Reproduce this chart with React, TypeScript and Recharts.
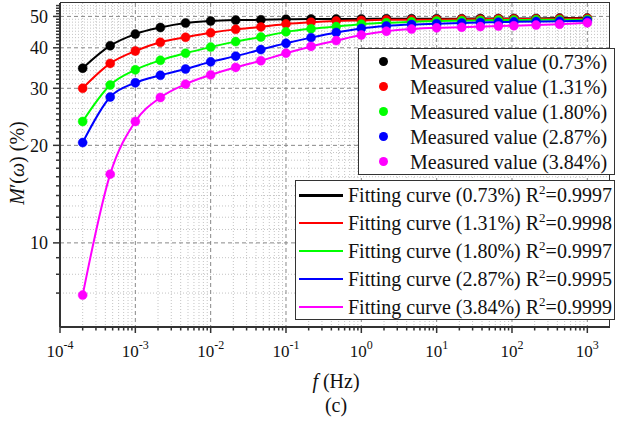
import { ComposedChart, Line, XAxis, YAxis, CartesianGrid } from "recharts";

const FONT = "'Liberation Serif', 'Times New Roman', serif";

// frequency (Hz)
const freq = [
  2e-4, 4.64e-4, 1e-3, 2.15e-3, 4.64e-3, 1e-2, 2.15e-2, 4.64e-2, 0.1, 0.215, 0.464,
  1, 2.15, 4.64, 10, 21.5, 38, 66, 106, 209, 428, 1000,
];

// M'(ω) in %
const m073 = [34.6, 40.6, 44.1, 46.2, 47.7, 48.4, 48.7, 48.8, 49.0, 49.1, 49.1, 49.1, 49.2, 49.2, 49.2, 49.2, 49.3, 49.3, 49.3, 49.3, 49.4, 49.4];
const m131 = [30.0, 35.8, 39.1, 41.6, 43.1, 44.5, 45.6, 46.4, 47.4, 48.0, 48.4, 48.6, 48.8, 48.8, 48.9, 49.0, 49.0, 49.1, 49.1, 49.1, 49.2, 49.3];
const m180 = [23.7, 30.7, 34.2, 36.6, 38.5, 40.2, 41.8, 43.2, 44.8, 45.8, 46.5, 47.3, 47.8, 48.1, 48.4, 48.5, 48.6, 48.7, 48.7, 48.8, 48.8, 48.9];
const m287 = [20.4, 28.2, 31.2, 32.9, 34.4, 36.2, 37.7, 39.5, 41.3, 43.0, 44.6, 45.9, 46.7, 47.2, 47.5, 47.7, 47.9, 48.0, 48.1, 48.2, 48.3, 48.5];
const m384 = [6.9, 16.3, 23.7, 28.1, 30.9, 33.0, 34.8, 36.5, 38.5, 40.4, 42.1, 43.8, 45.0, 45.7, 46.1, 46.3, 46.5, 46.7, 46.8, 47.0, 47.3, 47.8];

const contents = ["0.73%", "1.31%", "1.80%", "2.87%", "3.84%"];
const r2 = ["0.9997", "0.9998", "0.9997", "0.9995", "0.9999"];
const colors = ["#000000", "#ff0000", "#00ff00", "#0000ff", "#ff00ff"];
const keys = ["s073", "s131", "s180", "s287", "s384"];

const xMajor = [1e-4, 1e-3, 1e-2, 1e-1, 1, 10, 100, 1000];
const xExp = ["-4", "-3", "-2", "-1", "0", "1", "2", "3"];
const xMinor = xMajor.flatMap((d) => [2, 3, 4, 5, 6, 7, 8, 9].map((k) => d * k)).filter((v) => v < 2000);

const yMajor = [10, 20, 30, 40, 50];
const yMinor = [7, 8, 9, 11, 12, 13, 14, 15, 16, 17, 18, 19, 21, 22, 23, 24, 25, 26, 27, 28, 29, 31, 32, 33, 34, 35, 36, 37, 38, 39, 41, 42, 43, 44, 45, 46, 47, 48, 49, 51, 52, 53, 54];

const data = freq.map((f, i) => ({
  f,
  s073: m073[i],
  s131: m131[i],
  s180: m180[i],
  s287: m287[i],
  s384: m384[i],
}));

const isMajorX = (v: number) => xMajor.findIndex((m) => Math.abs(Math.log10(v) - Math.log10(m)) < 1e-6);

function XTick({ x, y, payload }: any) {
  const i = isMajorX(payload.value);
  return (
    <g>
      <line x1={x} x2={x} y1={y} y2={y + (i >= 0 ? 6 : 3.5)} stroke="#333" strokeWidth={1.5} />
      {i >= 0 && (
        <text x={x} y={y + 30} textAnchor="middle" fontFamily={FONT} fontSize={17} fill="#111">
          10
          <tspan dy={-8} fontSize={12}>
            {xExp[i]}
          </tspan>
        </text>
      )}
    </g>
  );
}

function YTick({ x, y, payload }: any) {
  const major = yMajor.includes(payload.value);
  return (
    <g>
      <line x1={x - (major ? 7 : 4)} x2={x} y1={y} y2={y} stroke="#333" strokeWidth={1.5} />
      {major && (
        <text x={x - 12} y={y} dy="0.35em" textAnchor="end" fontFamily={FONT} fontSize={18} fill="#111">
          {payload.value}
        </text>
      )}
    </g>
  );
}

export default function App() {
  return (
    <div style={{ position: "absolute", left: 0, top: 0, width: 619, height: 429, background: "#fff", fontFamily: FONT }}>
      <ComposedChart width={619} height={429} data={data} margin={{ top: 3, right: 9, left: 0, bottom: 62 }}>
        <CartesianGrid verticalValues={xMinor} horizontalValues={yMinor} stroke="#c4c4c4" strokeDasharray="1 2" />
        <CartesianGrid verticalValues={xMajor} horizontalValues={yMajor} stroke="#888888" strokeDasharray="4 3" />
        <XAxis
          dataKey="f"
          type="number"
          scale="log"
          domain={[1e-4, 2000]}
          allowDataOverflow
          ticks={[...xMajor, ...xMinor]}
          interval={0}
          tick={(p: any) => <XTick {...p} />}
          tickLine={false}
          tickSize={0}
          tickMargin={0}
          height={40}
          axisLine={{ stroke: "#333", strokeWidth: 2 }}
        />
        <YAxis
          type="number"
          scale="log"
          domain={[5.5, 55]}
          allowDataOverflow
          ticks={[...yMajor, ...yMinor]}
          interval={0}
          tick={(p: any) => <YTick {...p} />}
          tickLine={false}
          tickSize={0}
          tickMargin={0}
          width={60}
          axisLine={{ stroke: "#333", strokeWidth: 2 }}
        />
        {keys.map((k, i) => (
          <Line
            key={"fit-" + k}
            dataKey={k}
            type="monotone"
            stroke={colors[i]}
            strokeWidth={2}
            dot={false}
            isAnimationActive={false}
          />
        ))}
        {keys.map((k, i) => (
          <Line
            key={"pt-" + k}
            dataKey={k}
            stroke="none"
            dot={{ r: 4.5, fill: colors[i], stroke: colors[i], strokeWidth: 0.5 }}
            activeDot={false}
            isAnimationActive={false}
          />
        ))}
      </ComposedChart>

      {/* top / right frame */}
      <div style={{ position: "absolute", left: 60, top: 2, width: 550, height: 325, borderTop: "1.5px solid #333", borderRight: "1.5px solid #333", boxSizing: "border-box", pointerEvents: "none" }} />

      {/* measured legend */}
      <div style={{ position: "absolute", left: 358, top: 48, width: 257, height: 127, border: "1px solid #333", background: "#fff", boxSizing: "border-box" }} />
      {contents.map((c, i) => (
        <div key={"ml" + i}>
          <div style={{ position: "absolute", left: 379, top: 57.2 + 25 * i, width: 9, height: 9, borderRadius: "50%", background: colors[i] }} />
          <div style={{ position: "absolute", left: 410, top: 49.7 + 25 * i, height: 24, lineHeight: "24px", fontSize: 20, color: "#111", whiteSpace: "nowrap" }}>
            Measured value ({c})
          </div>
        </div>
      ))}

      {/* fitting legend */}
      <div style={{ position: "absolute", left: 295, top: 180, width: 320, height: 140, border: "1px solid #333", background: "#fff", boxSizing: "border-box" }} />
      {contents.map((c, i) => (
        <div key={"fl" + i}>
          <div style={{ position: "absolute", left: 299, top: 194 + 27.9 * i, width: 44, height: 2.5, background: colors[i] }} />
          <div style={{ position: "absolute", left: 348, top: 183 + 27.9 * i, height: 24, lineHeight: "24px", fontSize: 20, color: "#111", whiteSpace: "nowrap" }}>
            Fitting curve ({c}) R
            <span style={{ fontSize: 13, position: "relative", top: -8 }}>2</span>={r2[i]}
          </div>
        </div>
      ))}

      {/* axis titles */}
      <div style={{ position: "absolute", left: 236, width: 200, top: 369, textAlign: "center", fontSize: 20, lineHeight: "24px", color: "#111" }}>
        <i>f</i> (Hz)
      </div>
      <div style={{ position: "absolute", left: 236, width: 200, top: 393, textAlign: "center", fontSize: 20, lineHeight: "24px", color: "#111" }}>
        (c)
      </div>
      <div
        style={{
          position: "absolute",
          left: 17 - 60,
          top: 163 - 12,
          width: 120,
          height: 24,
          lineHeight: "24px",
          textAlign: "center",
          fontSize: 20,
          color: "#111",
          transform: "rotate(-90deg)",
          whiteSpace: "nowrap",
        }}
      >
        <i>M</i>′(<i>ω</i>) (%)
      </div>
    </div>
  );
}
